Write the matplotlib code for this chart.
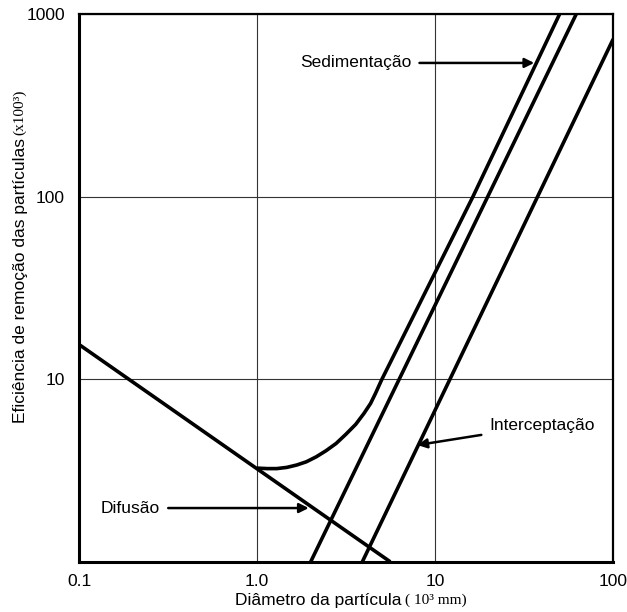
import matplotlib
matplotlib.use("Agg")
import matplotlib.pyplot as plt
from matplotlib.ticker import FixedLocator, FixedFormatter, NullLocator

plt.rcParams['font.family'] = ['Liberation Sans', 'DejaVu Sans']

### data

# x axis ticks (particle diameter) and y axis ticks (removal efficiency)
x_ticks = [0.1, 1.0, 10, 100]
x_tick_labels = ['0.1', '1.0', '10', '100']
y_ticks = [10, 100, 1000]
y_tick_labels = ['10', '100', '1000']

# diffusion line
diff_x = [0.1, 5.6]
diff_y = [15.5, 1.0]

# combined curve (leaves the diffusion line near 1.0 and turns up)
total_x = [1.0, 1.14, 1.29, 1.47, 1.67, 1.89, 2.15, 2.44, 2.78, 3.15,
           3.58, 3.98, 4.34, 4.62, 5.0, 16.3, 50]
total_y = [3.26, 3.24, 3.24, 3.29, 3.39, 3.53, 3.76, 4.06, 4.45, 4.99,
           5.66, 6.49, 7.37, 8.35, 9.9, 100, 1000]

# middle straight line
sed_x = [2.0, 62]
sed_y = [1.0, 1000]

# interception line
inter_x = [3.9, 100]
inter_y = [1.0, 730]


fig = plt.figure(figsize=(6.27, 6.12), dpi=100)
ax = fig.add_axes([0.126, 0.082, 0.852, 0.895])

lw = 2.6
for xs, ys in [(diff_x, diff_y), (total_x, total_y),
               (sed_x, sed_y), (inter_x, inter_y)]:
    ax.plot(xs, ys, color='black', lw=lw, solid_capstyle='butt',
            solid_joinstyle='round')

ax.set_xscale('log')
ax.set_yscale('log')
ax.set_xlim(0.1, 100)
ax.set_ylim(1, 1000)

ax.xaxis.set_major_locator(FixedLocator(x_ticks))
ax.xaxis.set_major_formatter(FixedFormatter(x_tick_labels))
ax.yaxis.set_major_locator(FixedLocator(y_ticks))
ax.yaxis.set_major_formatter(FixedFormatter(y_tick_labels))
ax.xaxis.set_minor_locator(NullLocator())
ax.yaxis.set_minor_locator(NullLocator())
ax.tick_params(axis='both', length=0, labelsize=12.5)
ax.tick_params(axis='x', pad=9)
ax.tick_params(axis='y', pad=10)

ax.grid(True, which='major', color='#333333', lw=0.8)
ax.set_axisbelow(True)
for side in ['left', 'bottom']:
    ax.spines[side].set_linewidth(2.2)
for side in ['top', 'right']:
    ax.spines[side].set_linewidth(1.6)

### annotations
arrow = dict(arrowstyle='-|>', color='black', lw=1.8, mutation_scale=14,
             shrinkA=4, shrinkB=0)
ax.annotate('Sedimentação', xy=(36, 540), xytext=(3.57, 540),
            ha='center', va='center', fontsize=12.5, arrowprops=arrow)
ax.annotate('Difusão', xy=(1.95, 1.97), xytext=(0.194, 1.97),
            ha='center', va='center', fontsize=12.5, arrowprops=arrow)
ax.annotate('Interceptação', xy=(7.95, 4.36), xytext=(40, 5.6),
            ha='center', va='center', fontsize=12.5, arrowprops=arrow)

### axis labels (sans part + serif unit part)
fig.text(0.641, 0.0196, 'Diâmetro da partícula', ha='right', va='center',
         fontsize=12.5)
fig.text(0.646, 0.0196, '( 10³ mm)', ha='left', va='center', fontsize=11,
         family=['Liberation Serif', 'DejaVu Serif'])

fig.text(0.032, 0.775, 'Eficiência de remoção das partículas', rotation=90,
         ha='center', va='top', fontsize=12.5)
fig.text(0.032, 0.779, '(x100³)', rotation=90, ha='center', va='bottom',
         fontsize=11, family=['Liberation Serif', 'DejaVu Serif'])

fig.savefig('out.png', dpi=100)
